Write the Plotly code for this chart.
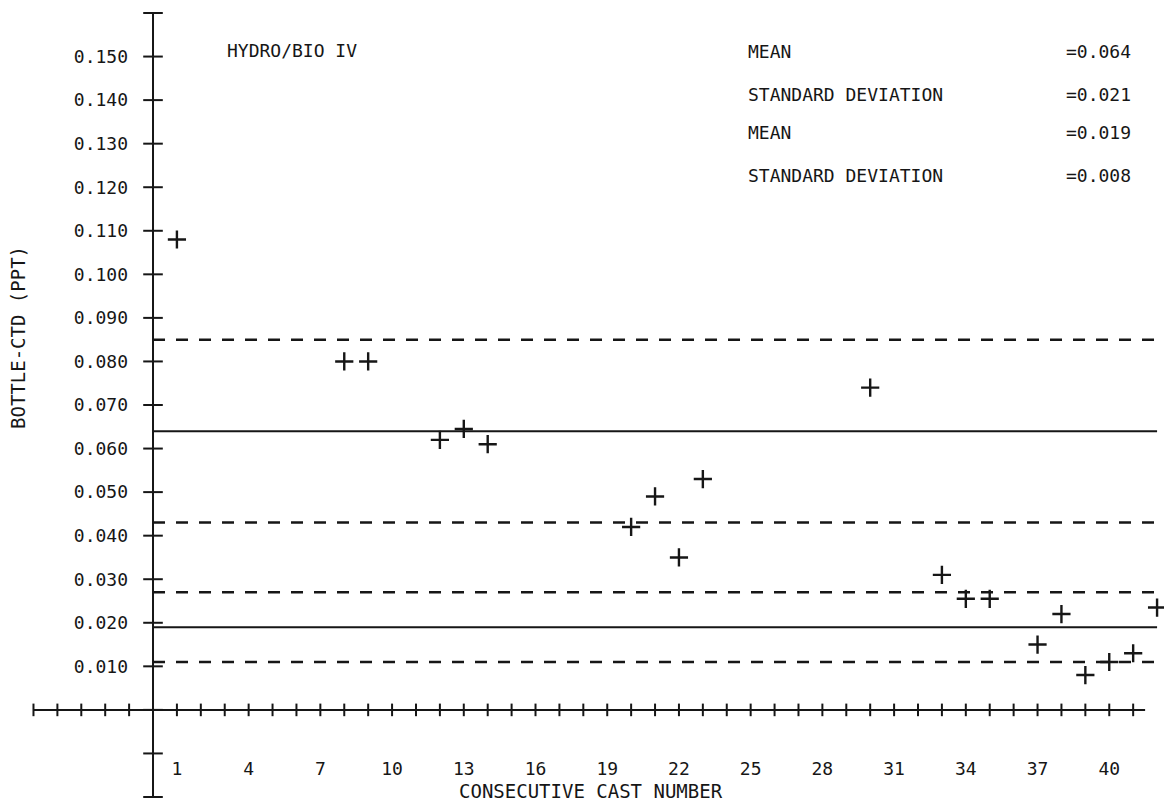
import plotly.graph_objects as go

# data
cast_number = [1, 8, 9, 12, 13, 14, 20, 21, 22, 23, 30,
               33, 34, 35, 37, 38, 39, 40, 41, 42]
bottle_minus_ctd = [0.108, 0.080, 0.080, 0.062, 0.0645, 0.061, 0.042, 0.049, 0.035, 0.053, 0.074,
                    0.031, 0.0255, 0.0255, 0.015, 0.022, 0.008, 0.011, 0.013, 0.0235]

group_means = [0.064, 0.019]
group_sds = [0.021, 0.008]
mean_labels = ["=0.064", "=0.019"]
sd_labels = ["=0.021", "=0.008"]

x_tick_vals = [1, 4, 7, 10, 13, 16, 19, 22, 25, 28, 31, 34, 37, 40]
y_tick_vals = [0.01, 0.02, 0.03, 0.04, 0.05, 0.06, 0.07, 0.08, 0.09, 0.10,
               0.11, 0.12, 0.13, 0.14, 0.15]

INK = '#161616'
FONT = 'DejaVu Sans Mono'
X_RANGE = [-5.062, 42.29]
Y_RANGE = [-0.02, 0.16]
LINE_END = 42

fig = go.Figure()

# axis lines drawn as the plotter did, crossing at the origin
fig.add_trace(go.Scatter(x=[0, 0], y=[-0.02, 0.16], mode='lines',
                         line=dict(color=INK, width=2), hoverinfo='skip'))
fig.add_trace(go.Scatter(x=[-5, 41.5], y=[0, 0], mode='lines',
                         line=dict(color=INK, width=2), hoverinfo='skip'))

# cross-style tick marks
y_marks = [round(-0.02 + 0.01 * i, 3) for i in range(19)]
x_marks = list(range(-5, 42))
fig.add_trace(go.Scatter(x=[0] * len(y_marks), y=y_marks, mode='markers',
                         marker=dict(symbol='line-ew', size=14, line=dict(width=2, color=INK)),
                         hoverinfo='skip', cliponaxis=False))
fig.add_trace(go.Scatter(x=x_marks, y=[0] * len(x_marks), mode='markers',
                         marker=dict(symbol='line-ns', size=9, line=dict(width=2, color=INK)),
                         hoverinfo='skip', cliponaxis=False))

# mean (solid) and mean +/- sd (dashed) lines
for m, s in zip(group_means, group_sds):
    fig.add_trace(go.Scatter(x=[0, LINE_END], y=[m, m], mode='lines',
                             line=dict(color=INK, width=2), hoverinfo='skip'))
    for v in (m + s, m - s):
        fig.add_trace(go.Scatter(x=[0, LINE_END], y=[v, v], mode='lines',
                                 line=dict(color=INK, width=2.5, dash='12px,11px'),
                                 hoverinfo='skip'))

# the observations
fig.add_trace(go.Scatter(x=cast_number, y=bottle_minus_ctd, mode='markers',
                         marker=dict(symbol='cross-thin', size=13,
                                     line=dict(width=2.4, color=INK)),
                         cliponaxis=False))

text_font = dict(family=FONT, size=18, color=INK)
title_font = dict(family=FONT, size=19, color=INK)
annotations = [
    dict(x=3.0, y=0.1515, xref='x', yref='y', text='HYDRO/BIO IV',
         showarrow=False, xanchor='left', yanchor='middle', font=text_font),
    dict(x=-0.0124, y=0.5867, xref='paper', yref='paper', text='BOTTLE-CTD (PPT)',
         showarrow=False, textangle=-90, xanchor='center', yanchor='middle', font=title_font),
    dict(x=0.4938, y=-0.0089, xref='paper', yref='paper', text='CONSECUTIVE CAST NUMBER',
         showarrow=False, xanchor='center', yanchor='bottom', font=title_font),
]
stat_rows = [0.1511, 0.1412, 0.1325, 0.1226]
for i in range(2):
    for label, value, row in (('MEAN', mean_labels[i], stat_rows[2 * i]),
                              ('STANDARD DEVIATION', sd_labels[i], stat_rows[2 * i + 1])):
        annotations.append(dict(x=24.8, y=row, xref='x', yref='y', text=label,
                                showarrow=False, xanchor='left', yanchor='middle', font=text_font))
        annotations.append(dict(x=41.0, y=row, xref='x', yref='y', text=value,
                                showarrow=False, xanchor='right', yanchor='middle', font=text_font))

# page body adds 8px on each side; keep the figure inside the window
fig.update_layout(
    width=1156, height=796,
    plot_bgcolor='white', paper_bgcolor='white',
    showlegend=False,
    margin=dict(l=24, r=0, t=5, b=7),
    font=text_font,
    annotations=annotations,
    xaxis=dict(range=X_RANGE, anchor='free',
               position=(0 - Y_RANGE[0]) / (Y_RANGE[1] - Y_RANGE[0]),
               tickvals=x_tick_vals, ticktext=[str(v) for v in x_tick_vals],
               ticks='', ticklabelstandoff=46, showline=False,
               showgrid=False, zeroline=False, tickfont=text_font),
    yaxis=dict(range=Y_RANGE, anchor='free',
               position=(0 - X_RANGE[0]) / (X_RANGE[1] - X_RANGE[0]),
               tickvals=y_tick_vals, ticktext=['%.3f' % v for v in y_tick_vals],
               ticks='', ticklabelstandoff=25, showline=False,
               showgrid=False, zeroline=False, tickfont=text_font),
)

fig.write_html("out.html")
